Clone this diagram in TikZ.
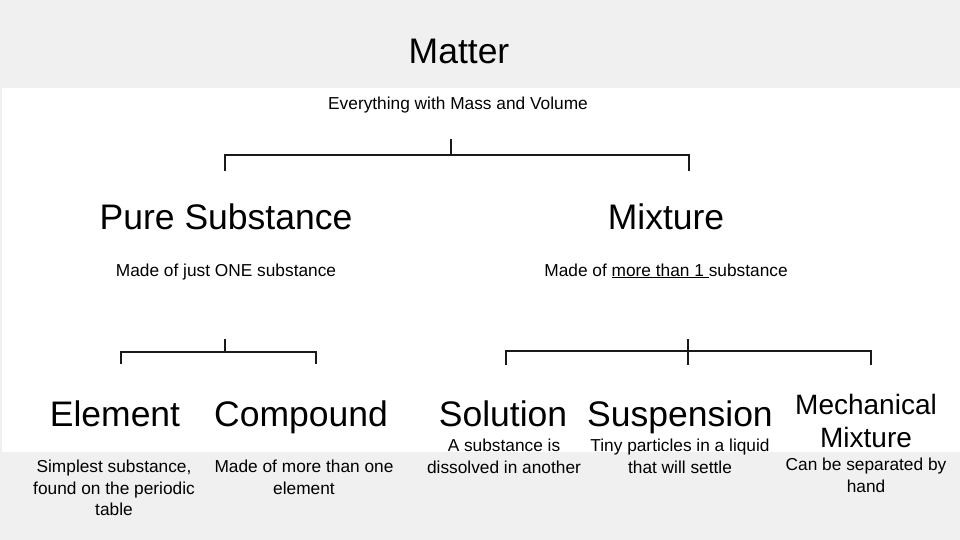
\documentclass[tikz,border=0pt]{standalone}
\usepackage{fontspec}
\setmainfont{Liberation Sans}
\definecolor{bg}{HTML}{F0F0F0}
\definecolor{ln}{HTML}{1A1A1A}
\begin{document}
\begin{tikzpicture}[x=1pt,y=-1pt,
  big/.style={font=\fontsize{35.5}{40}\selectfont,inner sep=0pt,anchor=base},
  mid/.style={font=\fontsize{28}{33}\selectfont,inner sep=0pt,align=center,anchor=north},
  small/.style={font=\fontsize{17.3}{21.5}\selectfont,inner sep=0pt,align=center,anchor=north},
  one/.style={font=\fontsize{17.3}{21.5}\selectfont,inner sep=0pt,anchor=base},
  br/.style={draw=ln,line width=2.2pt}]
\fill[bg] (0,0) rectangle (960,540);
\fill[white] (2,88) rectangle (960,452);
\useasboundingbox (0,0) rectangle (960,540);
\node[big] (matter) at (459,64) {Matter};
\node[one] (every) at (458,110) {Everything with Mass and Volume};
\node[big] (pure) at (226,229) {Pure Substance};
\node[big] (mix) at (666,229) {Mixture};
\node[one] (pured) at (226,276) {Made of just ONE substance};
\node[one] (mixd) at (666,276) {Made of \underline{more than 1 }substance};
\node[big] (el) at (115,426) {Element};
\node[big] (co) at (301,426) {Compound};
\node[big] (so) at (503,426) {Solution};
\node[big] (su) at (680,426) {Suspension};
\node[mid] (me) at (866,394) {Mechanical\\Mixture};
\node[small] (eld) at (114,460) {Simplest substance,\\found on the periodic\\table};
\node[small] (cod) at (304,460) {Made of more than one\\element};
\node[small] (sod) at (504,439) {A substance is\\dissolved in another};
\node[small] (sud) at (680,439) {Tiny particles in a liquid\\that will settle};
\node[small] (med) at (866,458) {Can be separated by\\hand};
\coordinate (t1) at (451,139);
\draw[br] (t1) -- (451,155);
\draw[br] (225,171) -- (225,155) -- (689,155) -- (689,171);
\draw[br] (225,339) -- (225,352);
\draw[br] (121,364) -- (121,352) -- (316,352) -- (316,364);
\draw[br] (688,339) -- (688,365);
\draw[br] (506,365) -- (506,351) -- (871,351) -- (871,365);
\end{tikzpicture}
\end{document}
